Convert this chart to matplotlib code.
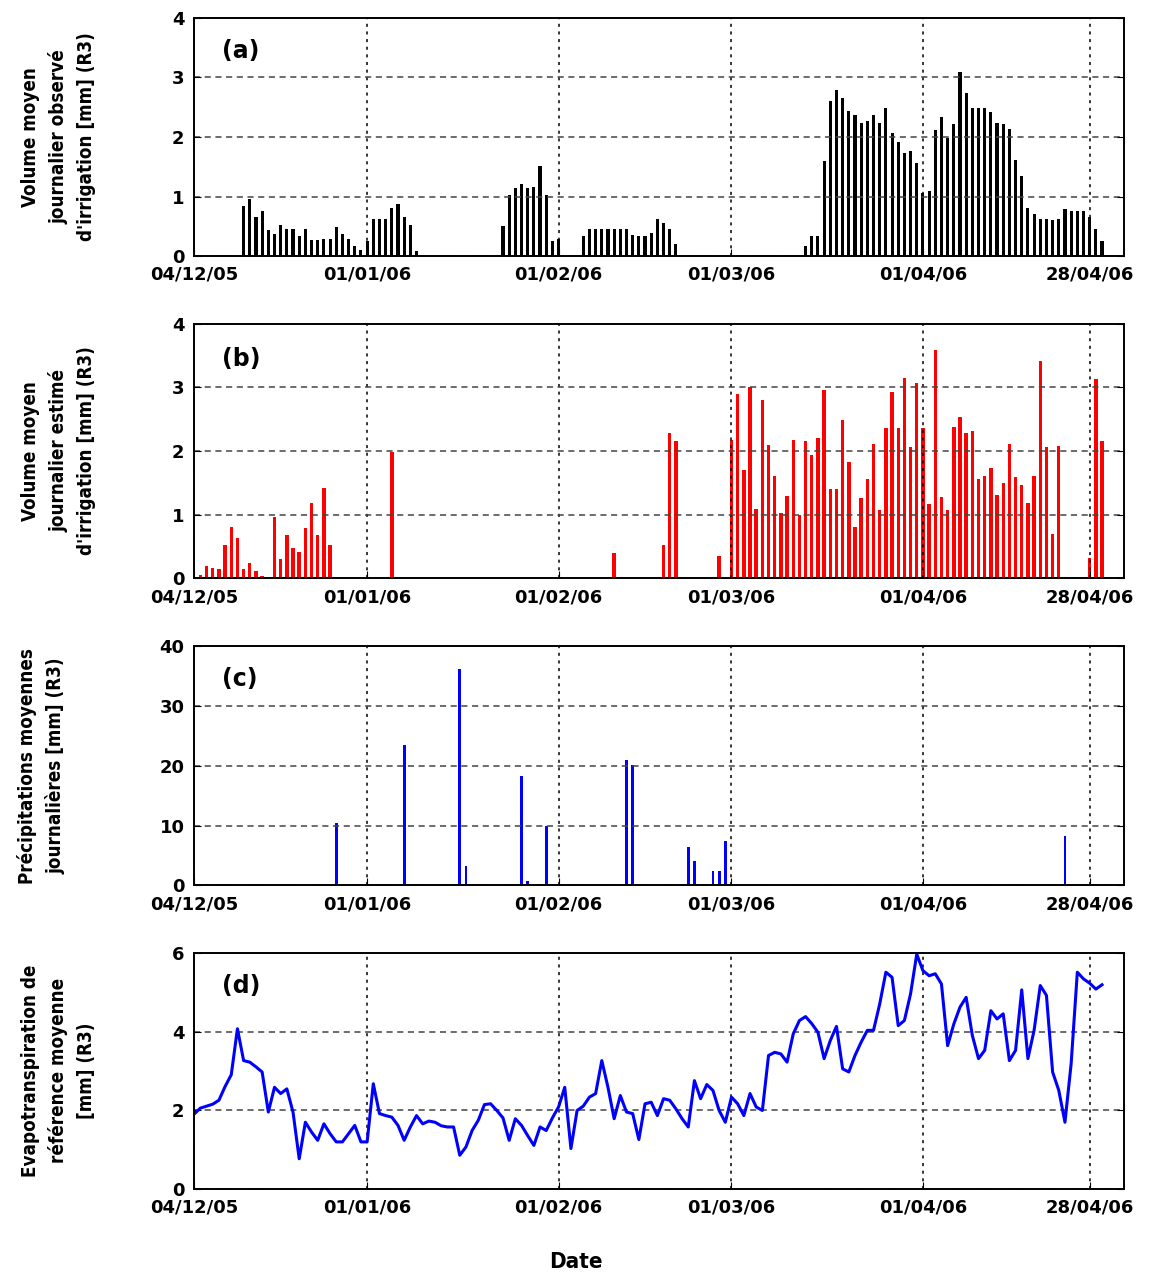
import matplotlib
matplotlib.use("Agg")
import matplotlib.pyplot as plt
import pandas as pd

# --- data (daily values, mm) ---
# (a) observed irrigation, consecutive days from each start date
obs_start_1 = "2005-12-12"
obs_vals_1 = [0.84, 0.96, 0.65, 0.75, 0.43, 0.37, 0.53, 0.46, 0.46, 0.34,
              0.46, 0.27, 0.27, 0.28, 0.28, 0.49, 0.37, 0.28, 0.17, 0.11,
              0.25, 0.62, 0.62, 0.62, 0.80, 0.88, 0.65, 0.53, 0.09]
obs_start_2 = "2006-01-23"
obs_vals_2 = [0.50, 1.02, 1.15, 1.21, 1.14, 1.16, 1.51, 1.02, 0.26, 0.28]
obs_start_3 = "2006-02-05"
obs_vals_3 = [0.34, 0.46, 0.46, 0.46, 0.46, 0.46, 0.46, 0.46, 0.35, 0.34,
              0.34, 0.39, 0.62, 0.55, 0.45, 0.20]
obs_start_4 = "2006-03-13"
obs_vals_4 = [0.17, 0.34, 0.34, 1.60, 2.61, 2.78, 2.65, 2.43, 2.37, 2.24,
              2.27, 2.37, 2.24, 2.49, 2.07, 1.91, 1.73, 1.76, 1.57, 1.06,
              1.09, 2.11, 2.34, 1.98, 2.21, 3.09, 2.73, 2.49, 2.49, 2.49,
              2.42, 2.24, 2.21, 2.13, 1.61, 1.35, 0.80, 0.71, 0.62, 0.62,
              0.60, 0.62, 0.79, 0.75, 0.75, 0.75, 0.65, 0.46, 0.25]

# (b) estimated irrigation
est_start_1 = "2005-12-05"
est_vals_1 = [0.05, 0.19, 0.17, 0.15, 0.52, 0.81, 0.64, 0.15, 0.24, 0.11, 0.03]
est_start_2 = "2005-12-17"
est_vals_2 = [0.96, 0.31, 0.68, 0.47, 0.41, 0.79, 1.18, 0.68, 1.42, 0.52]
est_single_dates = ["2006-01-05", "2006-02-10", "2006-02-18", "2006-02-19",
                    "2006-02-20", "2006-02-27"]
est_single_vals = [1.98, 0.40, 0.52, 2.29, 2.15, 0.35]
est_start_3 = "2006-03-01"
est_vals_3 = [2.17, 2.90, 1.70, 3.00, 1.09, 2.80, 2.10, 1.61, 1.02, 1.29,
              2.17, 1.00, 2.15, 1.94, 2.21, 2.96, 1.40, 1.40, 2.48, 1.82,
              0.81, 1.26, 1.56, 2.11, 1.08, 2.36, 2.92, 2.36, 3.14, 2.06,
              3.06, 2.36, 1.17, 3.59, 1.28, 1.07, 2.38, 2.54, 2.28, 2.32,
              1.56, 1.61, 1.73, 1.31, 1.49, 2.11, 1.59, 1.47, 1.19, 1.61,
              3.42, 2.06, 0.70, 2.08]
est_start_4 = "2006-04-28"
est_vals_4 = [0.32, 3.13, 2.16]

# (c) rainfall
rain_dates = ["2005-12-27", "2006-01-07", "2006-01-16", "2006-01-17",
              "2006-01-26", "2006-01-27", "2006-01-30", "2006-02-12",
              "2006-02-13", "2006-02-22", "2006-02-23", "2006-02-26",
              "2006-02-27", "2006-02-28", "2006-04-24"]
rain_vals = [10.4, 23.5, 36.2, 3.3, 18.2, 0.8, 10.0, 21.0, 20.1, 6.4,
             4.0, 2.4, 2.4, 7.4, 8.2]

# (d) reference evapotranspiration, daily from 04/12/05
et0_start = "2005-12-04"
et0_vals = [1.90, 2.05, 2.10, 2.15, 2.25, 2.60, 2.90, 4.07, 3.26, 3.22,
            3.10, 2.97, 1.95, 2.58, 2.42, 2.54, 1.95, 0.76, 1.69, 1.44,
            1.23, 1.65, 1.40, 1.19, 1.19, 1.40, 1.61, 1.19, 1.19, 2.67,
            1.91, 1.86, 1.82, 1.61, 1.23, 1.57, 1.86, 1.65, 1.72, 1.69,
            1.60, 1.57, 1.57, 0.85, 1.06, 1.48, 1.74, 2.14, 2.16, 1.99,
            1.80, 1.23, 1.78, 1.61, 1.35, 1.10, 1.57, 1.48, 1.80, 2.08,
            2.58, 1.02, 1.99, 2.10, 2.33, 2.42, 3.26, 2.58, 1.78, 2.37,
            1.95, 1.91, 1.25, 2.16, 2.20, 1.86, 2.29, 2.25, 2.03, 1.78,
            1.57, 2.75, 2.29, 2.65, 2.50, 1.99, 1.69, 2.33, 2.16, 1.86,
            2.42, 2.08, 1.99, 3.39, 3.47, 3.43, 3.22, 3.94, 4.28, 4.38,
            4.20, 3.98, 3.31, 3.77, 4.13, 3.05, 2.97, 3.39, 3.73, 4.03,
            4.03, 4.70, 5.51, 5.38, 4.15, 4.28, 4.96, 5.97, 5.55, 5.42,
            5.47, 5.21, 3.64, 4.19, 4.62, 4.87, 3.90, 3.31, 3.52, 4.53,
            4.32, 4.45, 3.26, 3.52, 5.06, 3.31, 4.03, 5.17, 4.92, 2.97,
            2.50, 1.69, 3.18, 5.51, 5.34, 5.23, 5.08, 5.19]

tick_dates = ["2005-12-04", "2006-01-01", "2006-02-01", "2006-03-01",
              "2006-04-01", "2006-04-28"]
tick_labels = ["04/12/05", "01/01/06", "01/02/06", "01/03/06",
               "01/04/06", "28/04/06"]

ylabels = ["Volume moyen\njournalier observé\nd'irrigation [mm] (R3)",
           "Volume moyen\njournalier estimé\nd'irrigation [mm] (R3)",
           "Précipitations moyennes\njournalières [mm] (R3)",
           "Evapotranspiration de\nréférence moyenne\n[mm] (R3)"]
panel_tags = ["(a)", "(b)", "(c)", "(d)"]


def days(start, vals):
    return pd.date_range(start, periods=len(vals), freq="D")


fig = plt.figure(figsize=(11.56, 12.74), dpi=100)
boxes = [[0.168, 0.799, 0.804, 0.187],
         [0.168, 0.546, 0.804, 0.200],
         [0.168, 0.305, 0.804, 0.188],
         [0.168, 0.067, 0.804, 0.185]]
axes = [fig.add_axes(b) for b in boxes]
ax_a, ax_b, ax_c, ax_d = axes

for st, v in [(obs_start_1, obs_vals_1), (obs_start_2, obs_vals_2),
              (obs_start_3, obs_vals_3), (obs_start_4, obs_vals_4)]:
    ax_a.bar(days(st, v), v, width=0.5, color="black")

for st, v in [(est_start_1, est_vals_1), (est_start_2, est_vals_2),
              (est_start_3, est_vals_3), (est_start_4, est_vals_4)]:
    ax_b.bar(days(st, v), v, width=0.55, color="red")
ax_b.bar(pd.to_datetime(est_single_dates), est_single_vals, width=0.55, color="red")

ax_c.bar(pd.to_datetime(rain_dates), rain_vals, width=0.45, color="#0000ff")

ax_d.plot(days(et0_start, et0_vals), et0_vals, color="#0000ff", lw=2.2)

ylims = [(0, 4), (0, 4), (0, 40), (0, 6)]
yticks = [[0, 1, 2, 3, 4], [0, 1, 2, 3, 4], [0, 10, 20, 30, 40], [0, 2, 4, 6]]
label_x = [-0.106, -0.106, -0.138, -0.106]

for i, ax in enumerate(axes):
    ax.set_xlim(pd.Timestamp("2005-12-04"), pd.Timestamp("2006-05-03 12:00"))
    ax.set_ylim(*ylims[i])
    ax.set_yticks(yticks[i])
    ax.set_xticks(pd.to_datetime(tick_dates))
    ax.set_xticklabels(tick_labels)
    ax.tick_params(direction="in", length=5, top=False, right=True,
                   labelsize=13, pad=7)
    for lab in ax.get_xticklabels() + ax.get_yticklabels():
        lab.set_fontweight("bold")
    ax.grid(axis="x", color="black", linestyle=(0, (2, 3)), linewidth=1.1)
    ax.grid(axis="y", color="#444444", linestyle=(0, (4, 3)), linewidth=1.1)
    for s in ax.spines.values():
        s.set_linewidth(1.4)
    ax.set_ylabel(ylabels[i], fontsize=13.5, fontweight="bold",
                  fontstretch="condensed", linespacing=1.55)
    ax.yaxis.set_label_coords(label_x[i], 0.5)
    ax.text(0.03, 0.86, panel_tags[i], transform=ax.transAxes, fontsize=17,
            fontweight="bold", va="center", ha="left")

fig.text(0.498, 0.0095, "Date", ha="center", va="center", fontsize=16,
         fontweight="bold", fontstretch="condensed")

fig.savefig("out.png", dpi=100)
